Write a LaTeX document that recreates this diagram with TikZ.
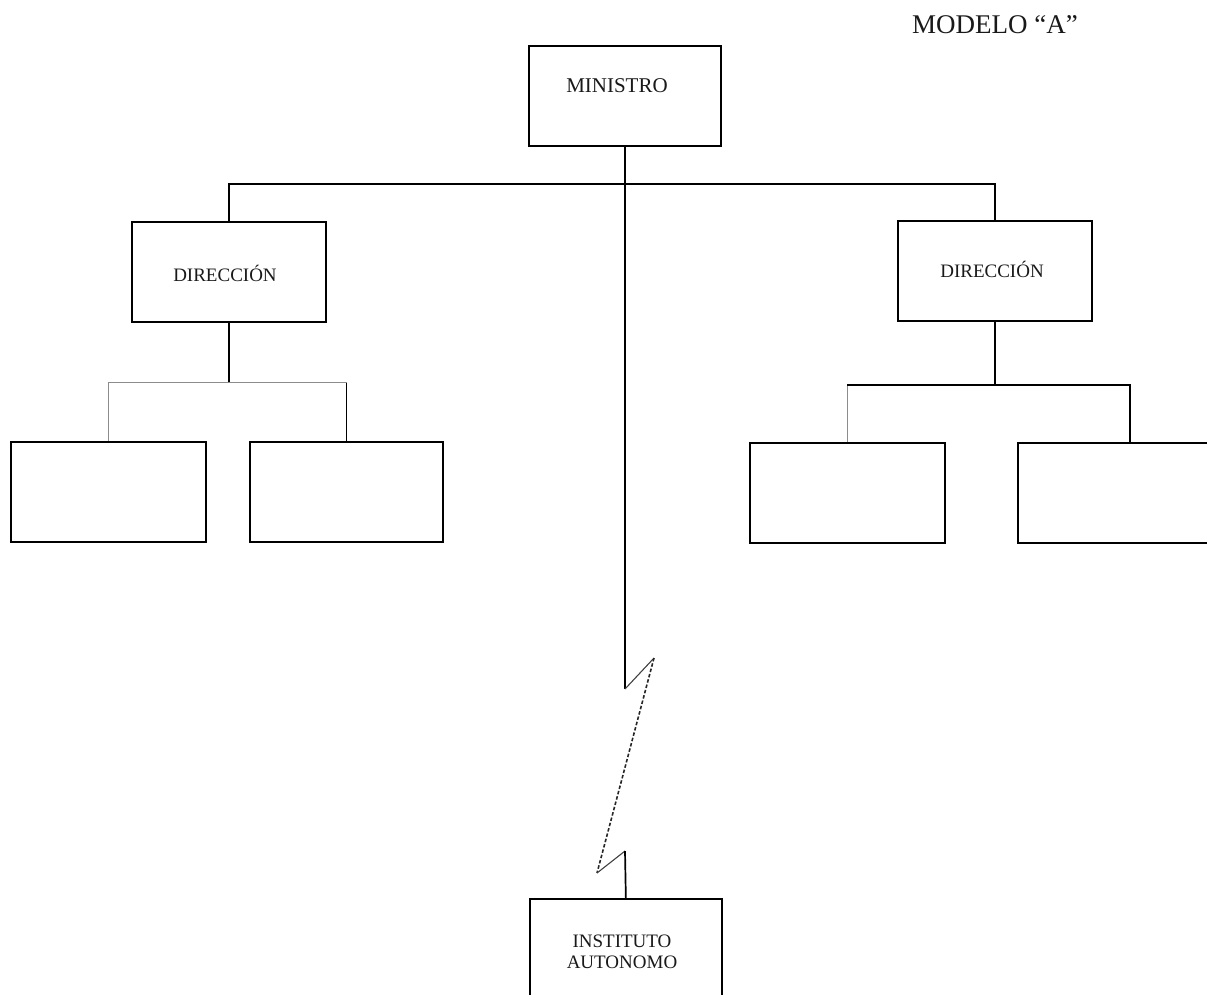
\documentclass[tikz,border=0pt]{standalone}
\usepackage{fontspec}
\setmainfont{Liberation Serif}
\begin{document}
\begin{tikzpicture}[x=1pt,y=-1pt,
  box/.style={draw=black,line width=1.7pt,inner sep=0pt,anchor=north west},
  wire/.style={line width=1.7pt,draw=black},
  thin wire/.style={line width=1pt,draw=black!45},
  cut/.style={line width=1.1pt,draw=black!75},
  cutdash/.style={line width=1.6pt,draw=black!85,dash pattern=on 3.5pt off 2pt},
  lbl/.style={font=\fontsize{19}{21}\selectfont,align=center,inner sep=0pt,text=black!90},
  title/.style={font=\fontsize{27}{29}\selectfont,inner sep=0pt,text=black!90}]
\useasboundingbox (0,0) rectangle (1207,994);

% title
\node[title] (modelo) at (995,25) {MODELO ``A''};

% boxes
\node[box,minimum width=192pt,minimum height=100pt] (min) at (528,45) {};
\node[box,minimum width=194pt,minimum height=100pt] (dirL) at (131,221) {};
\node[box,minimum width=194pt,minimum height=100pt] (dirR) at (897,220) {};
\node[box,minimum width=195pt,minimum height=100pt] (l1) at (10,441) {};
\node[box,minimum width=193pt,minimum height=100pt] (l2) at (249,441) {};
\node[box,minimum width=195pt,minimum height=100pt] (r1) at (749,442) {};
\node[box,minimum width=224pt,minimum height=100pt] (r2) at (1017,442) {};
\node[box,minimum width=192pt,minimum height=110pt] (inst) at (529,898) {};

% box texts
\node[lbl,font=\fontsize{21}{23}\selectfont] (tmin) at (617,86) {MINISTRO};
\node[lbl] (tdirL) at (225,273) {DIRECCIÓN};
\node[lbl] (tdirR) at (992,269) {DIRECCIÓN};
\node[lbl] (tinst) at (622,952) {INSTITUTO\\AUTONOMO};

% top level bar
\draw[wire] (dirL.north) -- ++(0,-37) coordinate (barL) -| (dirR.north);

% left branch
\draw[wire] (dirL.south) -- ++(0,60) coordinate (jL);
\draw[thin wire] (l1.north) |- (jL) -| (l2.north);
\draw[wire] (l2.north) -- (l2.north |- jL);

% right branch
\draw[wire] (dirR.south) -- ++(0,63) coordinate (jR);
\draw[thin wire] (r1.north) -- (r1.north |- jR);
\draw[wire] (r1.north |- jR) -- (r2.north |- jR) -- (r2.north);

% broken line to the autonomous institute
\coordinate (z1) at (625,689);
\coordinate (z2) at (654,658);
\coordinate (z3) at (597,873);
\coordinate (z4) at (625,851);
\draw[wire] (min.south -| z1) -- (z1);
\draw[cut] (z1) -- (z2);
\draw[cutdash] (z2) -- (z3);
\draw[cut] (z3) -- (z4);
\draw[wire] (z4) -- (inst.north);
\end{tikzpicture}
\end{document}
